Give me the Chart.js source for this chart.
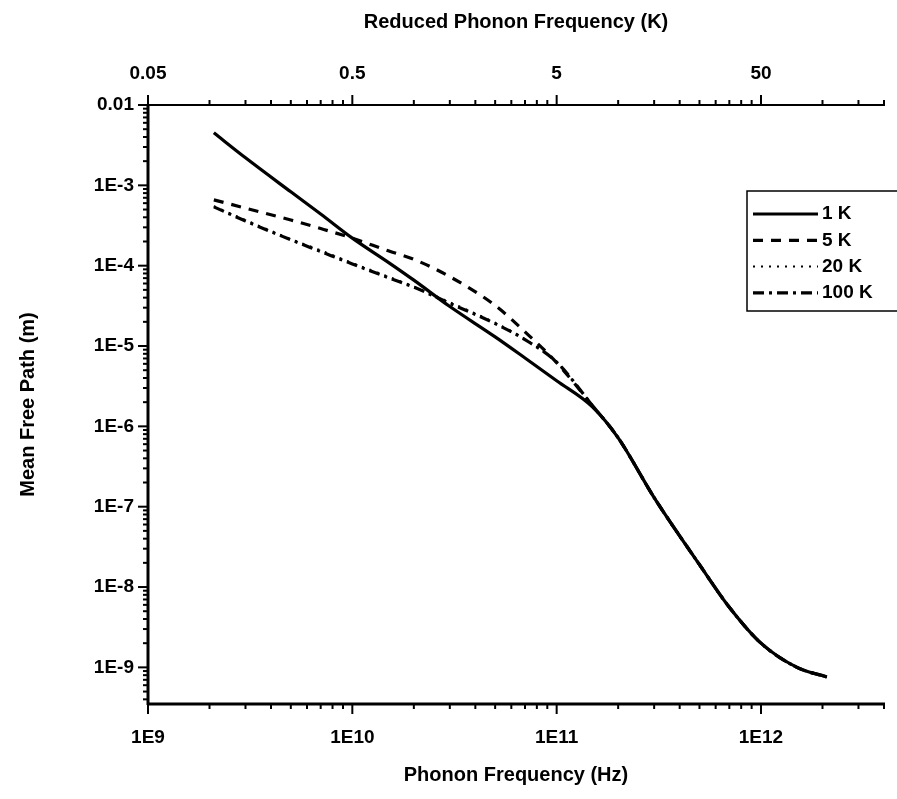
<!DOCTYPE html>
<html>
<head>
<meta charset="utf-8">
<script src="https://cdn.jsdelivr.net/npm/chart.js@4.4.0/dist/chart.umd.min.js"></script>
<style>
  html, body { margin: 0; padding: 0; background: #fff; }
  #wrap { width: 897px; height: 799px; }
</style>
</head>
<body>
<div id="wrap"><canvas id="myChart" width="897" height="799"></canvas></div>
<script>
// phonon frequency (Hz) and mean free path (m)
var frequencies = [2.1e9, 3e9, 5e9, 7e9, 1e10, 1.5e10, 2e10, 3e10, 5e10, 7e10, 1e11, 1.5e11, 2e11, 3e11, 5e11, 7e11, 1e12, 1.5e12, 2.1e12];
var mfp1K   = [4.5e-3, 2.2e-3, 8.3e-4, 4.4e-4, 2.2e-4, 1.1e-4, 6.6e-5, 3.1e-5, 1.3e-5, 7.1e-6, 3.7e-6, 1.74e-6, 7.2e-7, 1.3e-7, 1.9e-8, 5.6e-9, 2.0e-9, 1.0e-9, 7.6e-10];
var mfp5K   = [6.6e-4, 5.2e-4, 3.7e-4, 2.9e-4, 2.2e-4, 1.53e-4, 1.2e-4, 7.3e-5, 3.2e-5, 1.5e-5, 6.2e-6, 1.8e-6, 7.2e-7, 1.3e-7, 1.9e-8, 5.6e-9, 2.0e-9, 1.0e-9, 7.6e-10];
var mfp20K  = [5.5e-4, 3.7e-4, 2.15e-4, 1.55e-4, 1.08e-4, 7.3e-5, 5.5e-5, 3.5e-5, 1.95e-5, 1.22e-5, 6.3e-6, 1.8e-6, 7.2e-7, 1.3e-7, 1.9e-8, 5.6e-9, 2.0e-9, 1.0e-9, 7.6e-10];
var mfp100K = [5.4e-4, 3.6e-4, 2.1e-4, 1.5e-4, 1.05e-4, 7.1e-5, 5.4e-5, 3.4e-5, 1.9e-5, 1.2e-5, 6.3e-6, 1.8e-6, 7.2e-7, 1.3e-7, 1.9e-8, 5.6e-9, 2.0e-9, 1.0e-9, 7.6e-10];

var seriesLabels = ['1 K', '5 K', '20 K', '100 K'];

// decade tick labels (exponent -> text)
var bottomTickExps = [9, 10, 11, 12];
var bottomTickLabels = ['1E9', '1E10', '1E11', '1E12'];
var topTickLabels = ['0.05', '0.5', '5', '50'];
var yTickExps = [-9, -8, -7, -6, -5, -4, -3, -2];
var yTickLabels = ['1E-9', '1E-8', '1E-7', '1E-6', '1E-5', '1E-4', '1E-3', '0.01'];

var FONT = "'Liberation Sans', Arial, sans-serif";

function toPoints(ys) {
    return frequencies.map(function(f, i) { return {x: f, y: ys[i]}; });
}

function decadeLabel(value, exps, labels) {
    var lg = Math.log10(value);
    var e = Math.round(lg);
    if (Math.abs(lg - e) > 1e-6) return '';
    var i = exps.indexOf(e);
    return i < 0 ? '' : labels[i];
}

function logTicks(min, max) {
    var out = [];
    for (var e = Math.floor(Math.log10(min)); e <= Math.ceil(Math.log10(max)); e++) {
        for (var m = 1; m <= 9; m++) {
            var v = m * Math.pow(10, e);
            if (v >= min * 0.999 && v <= max * 1.001) out.push({v: v, major: m === 1});
        }
    }
    return out;
}

// axis lines, outward ticks and the boxed legend
var frameAndLegend = {
    id: 'frameAndLegend',
    afterDraw: function(chart) {
        var ctx = chart.ctx, a = chart.chartArea;
        var xs = chart.scales.x, ys = chart.scales.y;
        ctx.save();
        ctx.strokeStyle = '#000';
        ctx.lineCap = 'butt';

        function seg(x1, y1, x2, y2, w) {
            ctx.lineWidth = w;
            ctx.beginPath();
            ctx.moveTo(x1, y1);
            ctx.lineTo(x2, y2);
            ctx.stroke();
        }

        seg(a.left, a.top - 1, a.left, a.bottom + 1, 3);
        seg(a.left, a.bottom, a.right + 1, a.bottom, 3);
        seg(a.left, a.top, a.right + 1, a.top, 2);

        logTicks(xs.min, xs.max).forEach(function(t) {
            var px = xs.getPixelForValue(t.v);
            var len = t.major ? 10 : 5;
            seg(px, a.bottom, px, a.bottom + len, 2);
            seg(px, a.top, px, a.top - len, 2);
        });
        logTicks(ys.min, ys.max).forEach(function(t) {
            var py = ys.getPixelForValue(t.v);
            var len = t.major ? 10 : 5;
            seg(a.left, py, a.left - len, py, 2);
        });

        // legend
        var lx = 747, ly = 191;
        ctx.lineWidth = 1.5;
        ctx.strokeRect(lx, ly, 200, 120);
        ctx.font = 'bold 19px ' + FONT;
        ctx.fillStyle = '#000';
        ctx.textBaseline = 'middle';
        chart.data.datasets.forEach(function(ds, i) {
            var y = ly + 23 + i * 26.3;
            ctx.setLineDash(ds.borderDash || []);
            ctx.lineWidth = ds.borderWidth;
            ctx.beginPath();
            ctx.moveTo(lx + 6, y);
            ctx.lineTo(lx + 71, y);
            ctx.stroke();
            ctx.setLineDash([]);
            ctx.fillText(ds.label, lx + 75, y);
        });
        ctx.restore();
    }
};

function fitX(height) {
    return function(scale) {
        scale.height = height;
        scale.paddingLeft = 0;
        scale.paddingRight = 0;
    };
}

var ctx = document.getElementById('myChart');
new Chart(ctx, {
    type: 'line',
    data: {
        datasets: [
            {label: seriesLabels[0], data: toPoints(mfp1K), borderColor: '#000', borderWidth: 3.2, borderDash: []},
            {label: seriesLabels[1], data: toPoints(mfp5K), borderColor: '#000', borderWidth: 3.2, borderDash: [10, 8]},
            {label: seriesLabels[2], data: toPoints(mfp20K), borderColor: '#000', borderWidth: 2, borderDash: [2, 6]},
            {label: seriesLabels[3], data: toPoints(mfp100K), borderColor: '#000', borderWidth: 3.2, borderDash: [11, 5, 3, 5]}
        ]
    },
    options: {
        responsive: false,
        animation: false,
        devicePixelRatio: 1,
        layout: {padding: {left: 0, right: 13, top: 0, bottom: 0}},
        elements: {
            point: {radius: 0},
            line: {cubicInterpolationMode: 'monotone', fill: false}
        },
        plugins: {
            legend: {display: false},
            tooltip: {enabled: false}
        },
        scales: {
            x: {
                type: 'logarithmic',
                position: 'bottom',
                min: 1e9,
                max: 4e12,
                grid: {display: false, drawTicks: false},
                border: {display: false},
                ticks: {
                    autoSkip: false,
                    maxRotation: 0,
                    padding: 22,
                    color: '#000',
                    font: {family: FONT, size: 19, weight: 'bold'},
                    callback: function(v) { return decadeLabel(v, bottomTickExps, bottomTickLabels); }
                },
                title: {
                    display: true,
                    text: 'Phonon Frequency (Hz)',
                    color: '#000',
                    font: {family: FONT, size: 20, weight: 'bold'},
                    padding: {top: 0, bottom: 12}
                },
                afterFit: fitX(95)
            },
            x2: {
                type: 'logarithmic',
                position: 'top',
                min: 1e9,
                max: 4e12,
                grid: {display: false, drawTicks: false},
                border: {display: false},
                ticks: {
                    autoSkip: false,
                    maxRotation: 0,
                    padding: 20,
                    color: '#000',
                    font: {family: FONT, size: 19, weight: 'bold'},
                    callback: function(v) { return decadeLabel(v, bottomTickExps, topTickLabels); }
                },
                title: {
                    display: true,
                    text: 'Reduced Phonon Frequency (K)',
                    color: '#000',
                    font: {family: FONT, size: 20, weight: 'bold'},
                    padding: {top: 10, bottom: 0}
                },
                afterFit: fitX(105)
            },
            y: {
                type: 'logarithmic',
                position: 'left',
                min: 3.5e-10,
                max: 0.01,
                grid: {display: false, drawTicks: false},
                border: {display: false},
                ticks: {
                    autoSkip: false,
                    padding: 14,
                    color: '#000',
                    font: {family: FONT, size: 19, weight: 'bold'},
                    callback: function(v) { return decadeLabel(v, yTickExps, yTickLabels); }
                },
                title: {
                    display: true,
                    text: 'Mean Free Path (m)',
                    color: '#000',
                    font: {family: FONT, size: 20, weight: 'bold'},
                    padding: {top: 16, bottom: 0}
                },
                afterFit: function(scale) {
                    scale.width = 148;
                    scale.paddingTop = 0;
                    scale.paddingBottom = 0;
                }
            }
        }
    },
    plugins: [frameAndLegend]
});
</script>
</body>
</html>
